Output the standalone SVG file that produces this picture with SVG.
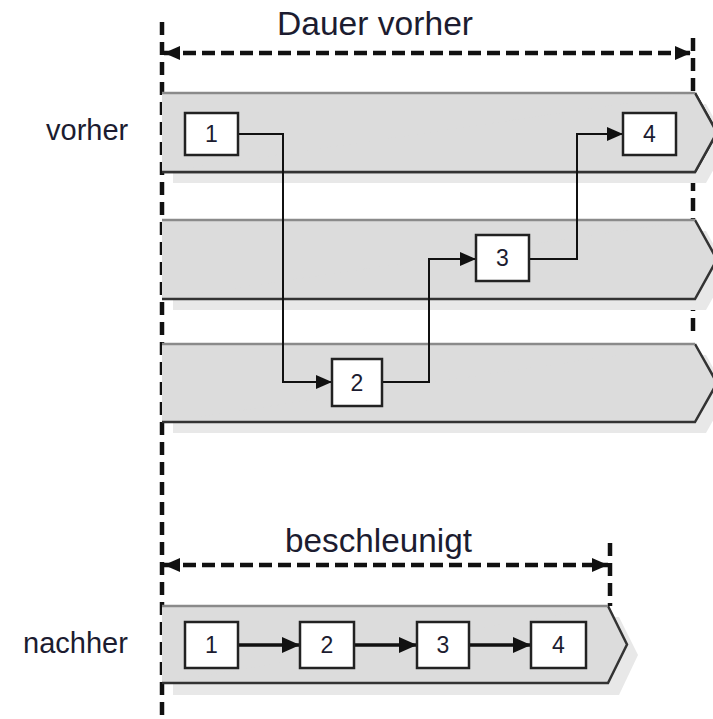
<svg xmlns="http://www.w3.org/2000/svg" width="713" height="719" viewBox="0 0 713 719">
  <defs>
    <marker id="head" markerUnits="userSpaceOnUse" markerWidth="16" markerHeight="14" refX="16" refY="7" orient="auto-start-reverse">
      <path d="M0,0 L16,7 L0,14 z" fill="#111"/>
    </marker>
    <marker id="headBig" markerUnits="userSpaceOnUse" markerWidth="18" markerHeight="16" refX="18" refY="8" orient="auto">
      <path d="M0,0 L18,8 L0,16 z" fill="#111"/>
    </marker>
    <style>
      text { font-family: "Liberation Sans", Arial, sans-serif; fill: #1c1c30; }
      .title { font-size: 33px; }
      .lane-label { font-size: 29px; }
      .num { font-size: 23px; text-anchor: middle; }
      .guide { stroke: #111; stroke-width: 4.5; stroke-dasharray: 13 7; fill: none; }
      .measure { stroke: #111; stroke-width: 4.5; stroke-dasharray: 13 6; fill: none; }
      .lane { fill: #dcdcdc; stroke: #333; stroke-width: 2.5; stroke-linejoin: miter; }
      .lane-top { stroke: #8a8a8a; stroke-width: 2.5; fill: none; }
      .shadow { fill: #e8e8e8; }
      .box { fill: #fff; stroke: #222; stroke-width: 2.5; }
      .flow { stroke: #111; stroke-width: 2; fill: none; }
      .flow-bold { stroke: #111; stroke-width: 3.5; fill: none; }
    </style>
  </defs>

  <!-- duration guides -->
  <g id="guides">
    <line class="guide" x1="162" y1="22" x2="162" y2="719"/>
    <line class="guide" x1="693" y1="38" x2="693" y2="336"/>
    <line class="guide" x1="610" y1="543" x2="610" y2="606"/>
  </g>

  <!-- swim lanes -->
  <g id="lanes">
    <path class="shadow" d="M173,104 H706 L728,143.5 L706,183 H173 z"/>
    <path class="lane" d="M162,172 H695 L717,132.5 L695,93"/>
    <path fill="#dcdcdc" d="M162,93 H695 L717,132.5 L695,172 H162 z"/>
    <path class="lane" d="M162,172 H695 L717,132.5 L695,93" />
    <line class="lane-top" x1="162" y1="93" x2="695" y2="93"/>

    <path class="shadow" d="M173,231 H706 L728,270.5 L706,310 H173 z"/>
    <path fill="#dcdcdc" d="M162,220 H695 L717,259.5 L695,299 H162 z"/>
    <path class="lane" fill="none" d="M162,299 H695 L717,259.5 L695,220"/>
    <line class="lane-top" x1="162" y1="220" x2="695" y2="220"/>

    <path class="shadow" d="M173,355 H706 L728,394 L706,433 H173 z"/>
    <path fill="#dcdcdc" d="M162,344 H695 L717,383 L695,422 H162 z"/>
    <path class="lane" fill="none" d="M162,422 H695 L717,383 L695,344"/>
    <line class="lane-top" x1="162" y1="344" x2="695" y2="344"/>

    <path class="shadow" d="M173,617 H619 L638,655 L619,695 H173 z"/>
    <path fill="#dcdcdc" d="M162,606 H608 L627,644.5 L608,683 H162 z"/>
    <path class="lane" fill="none" d="M162,683 H608 L627,644.5 L608,606"/>
    <line class="lane-top" x1="162" y1="606" x2="608" y2="606"/>
  </g>

  <!-- measurement arrows -->
  <g id="measures">
    <line class="measure" x1="164" y1="53" x2="691" y2="53" marker-start="url(#head)" marker-end="url(#head)"/>
    <line class="measure" x1="164" y1="565" x2="608" y2="565" marker-start="url(#head)" marker-end="url(#head)"/>
    <text class="title" x="277" y="35" textLength="196" lengthAdjust="spacingAndGlyphs">Dauer vorher</text>
    <text class="title" x="285" y="552" textLength="187" lengthAdjust="spacingAndGlyphs">beschleunigt</text>
  </g>

  <text class="lane-label" x="46" y="140">vorher</text>
  <text class="lane-label" x="23" y="653">nachher</text>

  <!-- connectors -->
  <g id="connectors">
    <path class="flow" d="M238,134 H283 V382 H332" marker-end="url(#head)"/>
    <path class="flow" d="M382,382 H429 V259 H476" marker-end="url(#head)"/>
    <path class="flow" d="M529,259 H577 V134 H623" marker-end="url(#head)"/>
    <path class="flow-bold" d="M238,645 H300" marker-end="url(#headBig)"/>
    <path class="flow-bold" d="M354,645 H417" marker-end="url(#headBig)"/>
    <path class="flow-bold" d="M469,645 H531" marker-end="url(#headBig)"/>
  </g>

  <!-- steps before -->
  <g id="before-1">
    <rect class="box" x="185" y="113" width="53" height="42"/>
    <text class="num" x="211.5" y="142">1</text>
  </g>
  <g id="before-2">
    <rect class="box" x="332" y="359" width="50" height="47"/>
    <text class="num" x="357" y="391">2</text>
  </g>
  <g id="before-3">
    <rect class="box" x="476" y="235" width="53" height="46"/>
    <text class="num" x="502.5" y="266">3</text>
  </g>
  <g id="before-4">
    <rect class="box" x="623" y="113" width="53" height="42"/>
    <text class="num" x="649.5" y="142">4</text>
  </g>

  <!-- steps after -->
  <g id="after-1">
    <rect class="box" x="185" y="622" width="53" height="46"/>
    <text class="num" x="211.5" y="653">1</text>
  </g>
  <g id="after-2">
    <rect class="box" x="300" y="622" width="54" height="46"/>
    <text class="num" x="327" y="653">2</text>
  </g>
  <g id="after-3">
    <rect class="box" x="417" y="622" width="52" height="46"/>
    <text class="num" x="443" y="653">3</text>
  </g>
  <g id="after-4">
    <rect class="box" x="531" y="622" width="55" height="46"/>
    <text class="num" x="558.5" y="653">4</text>
  </g>
</svg>
